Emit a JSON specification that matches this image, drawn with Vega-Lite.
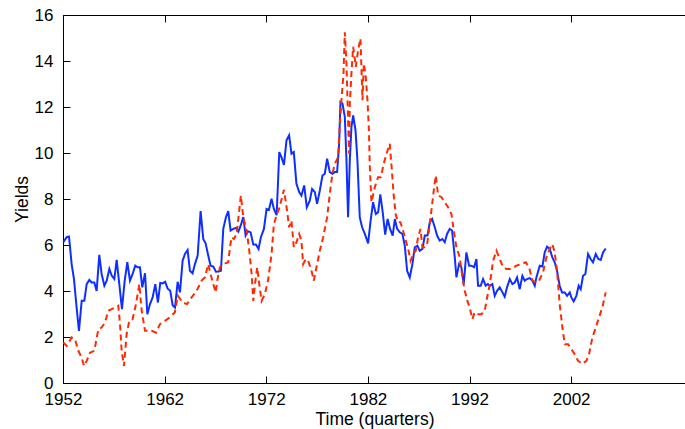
{
  "$schema": "https://vega.github.io/schema/vega-lite/v6.json",
  "description": "Yields, quarterly, 1952-2005",
  "autosize": "none",
  "padding": {"left": 63, "top": 15, "right": 0, "bottom": 46},
  "width": 623,
  "height": 368,
  "background": "white",
  "config": {
    "view": {"stroke": "#000000", "strokeWidth": 1},
    "font": "Liberation Sans",
    "axis": {
      "domainColor": "#000000",
      "tickColor": "#000000",
      "labelColor": "#000000",
      "titleColor": "#000000",
      "labelFont": "Liberation Sans",
      "titleFont": "Liberation Sans",
      "labelFontSize": 17,
      "titleFontSize": 17.5,
      "titleFontWeight": "normal",
      "labelFlush": false,
      "labelOverlap": false,
      "grid": false,
      "tickSize": -7,
      "tickWidth": 1
    }
  },
  "datasets": {
    "blue": [
      {"t": 1952.03, "v": 6.12}, {"t": 1952.36, "v": 6.34}, {"t": 1952.59, "v": 6.37}, {"t": 1952.85, "v": 5.17},
      {"t": 1953.08, "v": 4.52}, {"t": 1953.34, "v": 3.28}, {"t": 1953.57, "v": 2.27}, {"t": 1953.84, "v": 3.58},
      {"t": 1954.1, "v": 3.58}, {"t": 1954.33, "v": 4.3}, {"t": 1954.59, "v": 4.48}, {"t": 1954.82, "v": 4.37},
      {"t": 1955.08, "v": 4.37}, {"t": 1955.31, "v": 4.0}, {"t": 1955.57, "v": 5.57}, {"t": 1955.8, "v": 4.74},
      {"t": 1956.07, "v": 4.23}, {"t": 1956.3, "v": 4.45}, {"t": 1956.56, "v": 4.96}, {"t": 1956.79, "v": 4.67},
      {"t": 1957.05, "v": 4.52}, {"t": 1957.28, "v": 5.35}, {"t": 1957.54, "v": 4.3}, {"t": 1957.8, "v": 3.21},
      {"t": 1958.07, "v": 4.45}, {"t": 1958.33, "v": 5.25}, {"t": 1958.59, "v": 4.45}, {"t": 1958.85, "v": 4.74},
      {"t": 1959.11, "v": 5.1}, {"t": 1959.34, "v": 5.03}, {"t": 1959.57, "v": 5.03}, {"t": 1959.8, "v": 4.16},
      {"t": 1960.07, "v": 4.77}, {"t": 1960.3, "v": 2.99}, {"t": 1960.56, "v": 3.43}, {"t": 1960.82, "v": 3.72},
      {"t": 1961.08, "v": 4.3}, {"t": 1961.34, "v": 3.5}, {"t": 1961.57, "v": 4.35}, {"t": 1961.8, "v": 4.33},
      {"t": 1962.05, "v": 4.4}, {"t": 1962.3, "v": 4.1}, {"t": 1962.55, "v": 4.01}, {"t": 1962.79, "v": 3.38},
      {"t": 1963.02, "v": 3.28}, {"t": 1963.28, "v": 4.4}, {"t": 1963.51, "v": 3.94}, {"t": 1963.77, "v": 5.32},
      {"t": 1964.0, "v": 5.61}, {"t": 1964.26, "v": 5.78}, {"t": 1964.49, "v": 4.88}, {"t": 1964.75, "v": 4.77},
      {"t": 1964.98, "v": 5.17}, {"t": 1965.25, "v": 5.54}, {"t": 1965.54, "v": 7.47}, {"t": 1965.8, "v": 6.26},
      {"t": 1966.03, "v": 6.07}, {"t": 1966.29, "v": 5.54}, {"t": 1966.52, "v": 5.1}, {"t": 1966.79, "v": 5.06},
      {"t": 1967.05, "v": 4.84}, {"t": 1967.28, "v": 4.85}, {"t": 1967.54, "v": 4.88}, {"t": 1967.77, "v": 6.7},
      {"t": 1968.03, "v": 7.21}, {"t": 1968.26, "v": 7.47}, {"t": 1968.49, "v": 6.63}, {"t": 1968.75, "v": 6.7},
      {"t": 1969.0, "v": 6.74}, {"t": 1969.25, "v": 6.58}, {"t": 1969.48, "v": 6.84}, {"t": 1969.74, "v": 7.21},
      {"t": 1969.97, "v": 6.41}, {"t": 1970.2, "v": 6.6}, {"t": 1970.46, "v": 6.55}, {"t": 1970.72, "v": 6.02},
      {"t": 1970.98, "v": 6.02}, {"t": 1971.24, "v": 5.83}, {"t": 1971.47, "v": 6.34}, {"t": 1971.77, "v": 6.7},
      {"t": 1972.03, "v": 7.57}, {"t": 1972.26, "v": 7.53}, {"t": 1972.52, "v": 8.01}, {"t": 1972.75, "v": 7.57},
      {"t": 1973.02, "v": 7.3}, {"t": 1973.28, "v": 10.04}, {"t": 1973.51, "v": 9.8}, {"t": 1973.74, "v": 9.48},
      {"t": 1973.99, "v": 10.55}, {"t": 1974.25, "v": 10.77}, {"t": 1974.48, "v": 9.97}, {"t": 1974.71, "v": 10.04},
      {"t": 1974.97, "v": 8.66}, {"t": 1975.24, "v": 8.3}, {"t": 1975.46, "v": 8.15}, {"t": 1975.73, "v": 8.59},
      {"t": 1975.99, "v": 7.64}, {"t": 1976.28, "v": 7.93}, {"t": 1976.51, "v": 8.44}, {"t": 1976.78, "v": 8.3},
      {"t": 1977.0, "v": 7.79}, {"t": 1977.27, "v": 8.37}, {"t": 1977.53, "v": 9.02}, {"t": 1977.76, "v": 9.1},
      {"t": 1977.99, "v": 9.75}, {"t": 1978.25, "v": 9.17}, {"t": 1978.51, "v": 9.1}, {"t": 1978.74, "v": 9.17},
      {"t": 1978.97, "v": 9.17}, {"t": 1979.17, "v": 10.4}, {"t": 1979.3, "v": 12.22}, {"t": 1979.5, "v": 12.15},
      {"t": 1979.73, "v": 11.57}, {"t": 1979.89, "v": 9.68}, {"t": 1980.05, "v": 7.21}, {"t": 1980.22, "v": 9.68},
      {"t": 1980.38, "v": 11.13}, {"t": 1980.55, "v": 11.64}, {"t": 1980.78, "v": 10.99}, {"t": 1980.97, "v": 9.68},
      {"t": 1981.2, "v": 7.21}, {"t": 1981.43, "v": 6.77}, {"t": 1981.7, "v": 6.48}, {"t": 1982.02, "v": 6.07},
      {"t": 1982.25, "v": 6.99}, {"t": 1982.51, "v": 7.86}, {"t": 1982.78, "v": 7.35}, {"t": 1983.01, "v": 7.43},
      {"t": 1983.22, "v": 8.2}, {"t": 1983.45, "v": 7.45}, {"t": 1983.7, "v": 6.45}, {"t": 1983.94, "v": 7.13},
      {"t": 1984.18, "v": 6.7}, {"t": 1984.44, "v": 6.41}, {"t": 1984.65, "v": 7.13}, {"t": 1984.88, "v": 6.7},
      {"t": 1985.14, "v": 6.55}, {"t": 1985.4, "v": 6.48}, {"t": 1985.63, "v": 5.97}, {"t": 1985.86, "v": 4.88},
      {"t": 1986.12, "v": 4.59}, {"t": 1986.38, "v": 5.17}, {"t": 1986.61, "v": 5.9}, {"t": 1986.87, "v": 5.97},
      {"t": 1987.1, "v": 5.75}, {"t": 1987.37, "v": 5.83}, {"t": 1987.6, "v": 6.41}, {"t": 1987.86, "v": 6.41},
      {"t": 1988.09, "v": 6.99}, {"t": 1988.32, "v": 7.13}, {"t": 1988.58, "v": 6.77}, {"t": 1988.81, "v": 6.41},
      {"t": 1989.07, "v": 6.19}, {"t": 1989.33, "v": 6.26}, {"t": 1989.56, "v": 6.12}, {"t": 1989.79, "v": 6.48},
      {"t": 1990.05, "v": 6.7}, {"t": 1990.28, "v": 6.63}, {"t": 1990.55, "v": 5.46}, {"t": 1990.71, "v": 4.59},
      {"t": 1990.97, "v": 5.17}, {"t": 1991.2, "v": 5.03}, {"t": 1991.43, "v": 4.3}, {"t": 1991.69, "v": 5.68},
      {"t": 1991.96, "v": 5.1}, {"t": 1992.19, "v": 5.1}, {"t": 1992.45, "v": 5.03}, {"t": 1992.68, "v": 5.39},
      {"t": 1992.84, "v": 4.23}, {"t": 1993.1, "v": 4.23}, {"t": 1993.33, "v": 4.52}, {"t": 1993.59, "v": 4.23},
      {"t": 1993.8, "v": 4.3}, {"t": 1994.0, "v": 4.23}, {"t": 1994.25, "v": 4.3}, {"t": 1994.48, "v": 3.79},
      {"t": 1994.71, "v": 4.01}, {"t": 1994.97, "v": 4.16}, {"t": 1995.24, "v": 3.94}, {"t": 1995.46, "v": 3.75},
      {"t": 1995.69, "v": 4.16}, {"t": 1995.96, "v": 4.52}, {"t": 1996.22, "v": 4.3}, {"t": 1996.45, "v": 4.37},
      {"t": 1996.68, "v": 4.59}, {"t": 1996.94, "v": 4.08}, {"t": 1997.2, "v": 4.66}, {"t": 1997.43, "v": 4.45},
      {"t": 1997.66, "v": 4.52}, {"t": 1997.92, "v": 4.56}, {"t": 1998.19, "v": 4.45}, {"t": 1998.42, "v": 4.23},
      {"t": 1998.58, "v": 4.59}, {"t": 1998.91, "v": 5.1}, {"t": 1999.17, "v": 5.07}, {"t": 1999.4, "v": 5.68},
      {"t": 1999.63, "v": 5.93}, {"t": 1999.89, "v": 5.83}, {"t": 2000.15, "v": 5.46}, {"t": 2000.38, "v": 5.25},
      {"t": 2000.61, "v": 4.88}, {"t": 2000.87, "v": 4.23}, {"t": 2001.1, "v": 3.94}, {"t": 2001.37, "v": 3.94},
      {"t": 2001.6, "v": 3.79}, {"t": 2001.86, "v": 3.94}, {"t": 2002.02, "v": 3.72}, {"t": 2002.25, "v": 3.55},
      {"t": 2002.51, "v": 3.79}, {"t": 2002.74, "v": 4.23}, {"t": 2002.94, "v": 4.08}, {"t": 2003.17, "v": 4.66},
      {"t": 2003.4, "v": 4.74}, {"t": 2003.66, "v": 5.61}, {"t": 2003.92, "v": 5.39}, {"t": 2004.15, "v": 5.25},
      {"t": 2004.42, "v": 5.61}, {"t": 2004.68, "v": 5.39}, {"t": 2004.91, "v": 5.35}, {"t": 2005.14, "v": 5.68},
      {"t": 2005.4, "v": 5.85}
    ],
    "red": [
      {"t": 1952.03, "v": 1.76}, {"t": 1952.36, "v": 1.61}, {"t": 1952.85, "v": 1.98}, {"t": 1953.18, "v": 1.9},
      {"t": 1953.51, "v": 1.4}, {"t": 1953.84, "v": 1.1}, {"t": 1954.07, "v": 0.74}, {"t": 1954.33, "v": 0.96},
      {"t": 1954.66, "v": 1.32}, {"t": 1955.08, "v": 1.4}, {"t": 1955.48, "v": 2.34}, {"t": 1955.8, "v": 2.41},
      {"t": 1956.13, "v": 2.63}, {"t": 1956.46, "v": 3.14}, {"t": 1956.79, "v": 3.21}, {"t": 1957.11, "v": 3.28},
      {"t": 1957.44, "v": 3.36}, {"t": 1957.61, "v": 2.56}, {"t": 1957.77, "v": 1.4}, {"t": 1958.0, "v": 0.74},
      {"t": 1958.26, "v": 2.12}, {"t": 1958.52, "v": 2.7}, {"t": 1958.85, "v": 2.78}, {"t": 1959.18, "v": 3.43},
      {"t": 1959.51, "v": 4.3}, {"t": 1959.74, "v": 3.14}, {"t": 1960.07, "v": 2.27}, {"t": 1960.39, "v": 2.27},
      {"t": 1960.72, "v": 2.27}, {"t": 1961.15, "v": 2.19}, {"t": 1961.54, "v": 2.56}, {"t": 1962.03, "v": 2.7},
      {"t": 1962.5, "v": 2.85}, {"t": 1963.0, "v": 3.07}, {"t": 1963.3, "v": 3.79}, {"t": 1963.77, "v": 3.5},
      {"t": 1964.2, "v": 3.43}, {"t": 1964.65, "v": 3.72}, {"t": 1965.15, "v": 4.01}, {"t": 1965.64, "v": 4.45},
      {"t": 1965.96, "v": 4.59}, {"t": 1966.29, "v": 5.17}, {"t": 1966.52, "v": 4.74}, {"t": 1966.79, "v": 4.3},
      {"t": 1967.02, "v": 3.94}, {"t": 1967.18, "v": 4.45}, {"t": 1967.44, "v": 5.03}, {"t": 1967.77, "v": 5.17},
      {"t": 1968.26, "v": 5.25}, {"t": 1968.43, "v": 5.9}, {"t": 1968.59, "v": 6.34}, {"t": 1968.82, "v": 6.26},
      {"t": 1969.08, "v": 6.48}, {"t": 1969.34, "v": 7.5}, {"t": 1969.5, "v": 8.15}, {"t": 1969.74, "v": 7.21},
      {"t": 1970.07, "v": 6.63}, {"t": 1970.33, "v": 5.75}, {"t": 1970.56, "v": 4.74}, {"t": 1970.72, "v": 3.57},
      {"t": 1970.89, "v": 4.3}, {"t": 1971.11, "v": 5.03}, {"t": 1971.31, "v": 4.3}, {"t": 1971.54, "v": 3.57},
      {"t": 1971.87, "v": 3.87}, {"t": 1972.2, "v": 4.52}, {"t": 1972.52, "v": 5.61}, {"t": 1972.75, "v": 6.9},
      {"t": 1973.02, "v": 7.3}, {"t": 1973.28, "v": 7.6}, {"t": 1973.74, "v": 8.4}, {"t": 1974.0, "v": 7.64},
      {"t": 1974.25, "v": 6.77}, {"t": 1974.48, "v": 7.06}, {"t": 1974.71, "v": 5.9}, {"t": 1974.97, "v": 6.12},
      {"t": 1975.24, "v": 6.48}, {"t": 1975.46, "v": 6.19}, {"t": 1975.63, "v": 5.17}, {"t": 1975.89, "v": 5.39},
      {"t": 1976.12, "v": 5.32}, {"t": 1976.45, "v": 4.88}, {"t": 1976.68, "v": 4.45}, {"t": 1976.94, "v": 5.03},
      {"t": 1977.27, "v": 5.75}, {"t": 1977.6, "v": 6.34}, {"t": 1977.99, "v": 7.21}, {"t": 1978.25, "v": 8.22},
      {"t": 1978.51, "v": 9.1}, {"t": 1978.74, "v": 9.53}, {"t": 1978.91, "v": 9.68}, {"t": 1979.07, "v": 9.82},
      {"t": 1979.24, "v": 11.28}, {"t": 1979.4, "v": 12.29}, {"t": 1979.6, "v": 13.46}, {"t": 1979.73, "v": 15.25},
      {"t": 1979.89, "v": 13.89}, {"t": 1980.05, "v": 11.42}, {"t": 1980.15, "v": 9.97}, {"t": 1980.22, "v": 12.15},
      {"t": 1980.38, "v": 13.46}, {"t": 1980.55, "v": 14.62}, {"t": 1980.81, "v": 13.75}, {"t": 1981.04, "v": 14.48},
      {"t": 1981.27, "v": 14.98}, {"t": 1981.47, "v": 12.29}, {"t": 1981.6, "v": 13.89}, {"t": 1981.79, "v": 13.31},
      {"t": 1981.96, "v": 12.29}, {"t": 1982.1, "v": 10.99}, {"t": 1982.19, "v": 9.39}, {"t": 1982.35, "v": 7.86},
      {"t": 1982.68, "v": 8.51}, {"t": 1983.0, "v": 8.95}, {"t": 1983.27, "v": 8.95}, {"t": 1983.56, "v": 9.53},
      {"t": 1983.83, "v": 9.97}, {"t": 1984.15, "v": 10.4}, {"t": 1984.35, "v": 9.3}, {"t": 1984.55, "v": 8.1},
      {"t": 1984.75, "v": 7.3}, {"t": 1984.97, "v": 6.99}, {"t": 1985.2, "v": 6.99}, {"t": 1985.46, "v": 6.63},
      {"t": 1985.73, "v": 6.19}, {"t": 1985.96, "v": 5.83}, {"t": 1986.2, "v": 5.32}, {"t": 1986.45, "v": 5.61},
      {"t": 1986.71, "v": 5.75}, {"t": 1986.94, "v": 6.34}, {"t": 1987.17, "v": 6.7}, {"t": 1987.37, "v": 5.9},
      {"t": 1987.6, "v": 5.9}, {"t": 1987.83, "v": 6.04}, {"t": 1988.09, "v": 6.92}, {"t": 1988.25, "v": 7.5},
      {"t": 1988.48, "v": 8.37}, {"t": 1988.68, "v": 9.02}, {"t": 1988.91, "v": 8.15}, {"t": 1989.24, "v": 8.08},
      {"t": 1989.56, "v": 7.86}, {"t": 1989.89, "v": 7.64}, {"t": 1990.22, "v": 7.35}, {"t": 1990.45, "v": 6.63},
      {"t": 1990.71, "v": 5.9}, {"t": 1991.04, "v": 5.46}, {"t": 1991.3, "v": 4.59}, {"t": 1991.53, "v": 4.01},
      {"t": 1991.79, "v": 3.57}, {"t": 1992.02, "v": 3.28}, {"t": 1992.28, "v": 2.78}, {"t": 1992.51, "v": 3.07},
      {"t": 1992.84, "v": 2.99}, {"t": 1993.17, "v": 2.99}, {"t": 1993.5, "v": 3.14}, {"t": 1993.73, "v": 3.72},
      {"t": 1994.0, "v": 4.3}, {"t": 1994.32, "v": 5.32}, {"t": 1994.65, "v": 5.75}, {"t": 1994.97, "v": 5.39},
      {"t": 1995.3, "v": 5.03}, {"t": 1995.63, "v": 4.96}, {"t": 1996.12, "v": 4.96}, {"t": 1996.6, "v": 5.1},
      {"t": 1997.1, "v": 5.17}, {"t": 1997.53, "v": 5.25}, {"t": 1997.86, "v": 5.03}, {"t": 1998.19, "v": 4.45},
      {"t": 1998.51, "v": 4.37}, {"t": 1998.84, "v": 4.45}, {"t": 1999.23, "v": 4.81}, {"t": 1999.56, "v": 5.46},
      {"t": 1999.89, "v": 5.83}, {"t": 2000.15, "v": 6.04}, {"t": 2000.38, "v": 5.68}, {"t": 2000.61, "v": 4.88},
      {"t": 2000.87, "v": 3.43}, {"t": 2001.14, "v": 2.41}, {"t": 2001.37, "v": 1.69}, {"t": 2001.7, "v": 1.69},
      {"t": 2002.02, "v": 1.47}, {"t": 2002.35, "v": 1.25}, {"t": 2002.68, "v": 0.96}, {"t": 2003.1, "v": 0.84},
      {"t": 2003.5, "v": 0.96}, {"t": 2003.76, "v": 1.25}, {"t": 2004.09, "v": 1.98}, {"t": 2004.42, "v": 2.41},
      {"t": 2004.74, "v": 2.85}, {"t": 2005.07, "v": 3.28}, {"t": 2005.4, "v": 3.94}
    ]
  },
  "layer": [
    {
      "data": {"name": "blue"},
      "mark": {"type": "line", "color": "#0f2fff", "strokeWidth": 2},
      "encoding": {
        "x": {
          "field": "t",
          "type": "quantitative",
          "scale": {"domain": [1952, 2013.3], "nice": false, "zero": false},
          "axis": {
            "orient": "bottom",
            "values": [1952, 1962, 1972, 1982, 1992, 2002],
            "format": "d",
            "labelPadding": 15,
            "title": "Time (quarters)",
            "titlePadding": 3
          }
        },
        "y": {
          "field": "v",
          "type": "quantitative",
          "scale": {"domain": [0, 16], "nice": false},
          "axis": {
            "orient": "left",
            "values": [0, 2, 4, 6, 8, 10, 12, 14, 16],
            "labelPadding": 17,
            "title": "Yields",
            "titlePadding": 3
          }
        }
      }
    },
    {
      "data": {"name": "red"},
      "mark": {"type": "line", "color": "#ff2a00", "strokeWidth": 2, "strokeDash": [6, 4]},
      "encoding": {
        "x": {
          "field": "t",
          "type": "quantitative",
          "axis": {
            "orient": "top",
            "values": [1952, 1962, 1972, 1982, 1992, 2002],
            "labels": false,
            "title": null
          }
        },
        "y": {"field": "v", "type": "quantitative", "axis": null}
      }
    }
  ],
  "resolve": {"axis": {"x": "independent", "y": "independent"}}
}
